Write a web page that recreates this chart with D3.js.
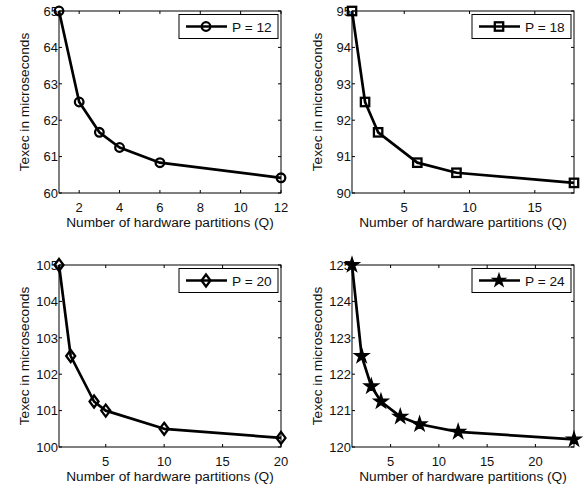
<!DOCTYPE html>
<html><head><meta charset="utf-8">
<script src="https://cdn.jsdelivr.net/npm/d3@7"></script>
<style>body{margin:0;background:#fff}svg{display:block}</style>
</head><body><svg id="c" width="588" height="492" style="font-family:'Liberation Sans', Arial, Helvetica, sans-serif"></svg>
<script>
const q12 = [1, 2, 3, 4, 6, 12];
const t12 = [65, 62.5, 61.667, 61.25, 60.833, 60.417];
const q18 = [1, 2, 3, 6, 9, 18];
const t18 = [95, 92.5, 91.667, 90.833, 90.556, 90.278];
const q20 = [1, 2, 4, 5, 10, 20];
const t20 = [105, 102.5, 101.25, 101, 100.5, 100.25];
const q24 = [1, 2, 3, 4, 6, 8, 12, 24];
const t24 = [125, 122.5, 121.667, 121.25, 120.833, 120.625, 120.417, 120.208];
const legends = ["P = 12", "P = 18", "P = 20", "P = 24"];
const xTicks12 = [2, 4, 6, 8, 10, 12];
const xTicks18 = [5, 10, 15];
const xTicks20 = [5, 10, 15, 20];
const xTicks24 = [5, 10, 15, 20];
const yTicks12 = [60, 61, 62, 63, 64, 65];
const yTicks18 = [90, 91, 92, 93, 94, 95];
const yTicks20 = [100, 101, 102, 103, 104, 105];
const yTicks24 = [120, 121, 122, 123, 124, 125];
const xMax = [12, 18, 20, 24];
const xLabel = "Number of hardware partitions (Q)";
const yLabel = "Texec in microseconds";

const panels = [
  {q:q12,t:t12,xt:xTicks12,yt:yTicks12,xm:xMax[0],leg:legends[0],mk:"circle",x0:59,y0:11},
  {q:q18,t:t18,xt:xTicks18,yt:yTicks18,xm:xMax[1],leg:legends[1],mk:"square",x0:352,y0:11},
  {q:q20,t:t20,xt:xTicks20,yt:yTicks20,xm:xMax[2],leg:legends[2],mk:"diamond",x0:59,y0:265},
  {q:q24,t:t24,xt:xTicks24,yt:yTicks24,xm:xMax[3],leg:legends[3],mk:"star",x0:352,y0:265}
];
const W = 222, H = 182;
const FONT = "'Liberation Sans', Arial, Helvetica, sans-serif";
const svg = d3.select("#c");

function marker(g, type, x, y, small) {
  if (type === "circle") {
    g.append("circle").attr("cx", x).attr("cy", y).attr("r", 4.3)
      .attr("fill", "none").attr("stroke", "#000").attr("stroke-width", 2.3);
  } else if (type === "square") {
    g.append("rect").attr("x", x - 4.2).attr("y", y - 4.2).attr("width", 8.4).attr("height", 8.4)
      .attr("fill", "none").attr("stroke", "#000").attr("stroke-width", 2.3);
  } else if (type === "diamond") {
    g.append("path").attr("d", `M${x},${y-6}L${x+4.5},${y}L${x},${y+6}L${x-4.5},${y}Z`)
      .attr("fill", "none").attr("stroke", "#000").attr("stroke-width", 2.3);
  } else {
    g.append("path").attr("d", d3.symbol(d3.symbolStar, small ? 48 : 62)())
      .attr("transform", `translate(${x},${y})`)
      .attr("fill", "#000").attr("stroke", "#000").attr("stroke-width", 1.4)
      .attr("stroke-linejoin", "miter");
  }
}

panels.forEach(p => {
  const g = svg.append("g").attr("transform", `translate(${p.x0},${p.y0})`);
  const x = d3.scaleLinear().domain([1, p.xm]).range([0, W]);
  const y = d3.scaleLinear().domain([p.yt[0], p.yt[5]]).range([H, 0]);

  const tl = 3;
  const tk = g.append("g").attr("stroke", "#000").attr("stroke-width", 1);
  p.xt.forEach(v => {
    tk.append("line").attr("x1", x(v)).attr("x2", x(v)).attr("y1", H).attr("y2", H - tl);
    tk.append("line").attr("x1", x(v)).attr("x2", x(v)).attr("y1", 0).attr("y2", tl);
  });
  p.yt.forEach(v => {
    tk.append("line").attr("x1", 0).attr("x2", tl).attr("y1", y(v)).attr("y2", y(v));
    tk.append("line").attr("x1", W).attr("x2", W - tl).attr("y1", y(v)).attr("y2", y(v));
  });
  g.append("rect").attr("width", W).attr("height", H).attr("fill", "none")
    .attr("stroke", "#000").attr("stroke-width", 1);

  g.selectAll(".xl").data(p.xt).enter().append("text")
    .attr("x", d => x(d)).attr("y", H + 19).attr("text-anchor", "middle")
    .attr("font-family", FONT).attr("font-size", 13).attr("fill", "#111").text(d => d);
  g.selectAll(".yl").data(p.yt).enter().append("text")
    .attr("x", -1).attr("y", d => y(d) + 4.7).attr("text-anchor", "end")
    .attr("font-family", FONT).attr("font-size", 13).attr("fill", "#111").text(d => d);

  g.append("text").attr("x", W / 2).attr("y", H + 34).attr("text-anchor", "middle")
    .attr("font-family", FONT).attr("font-size", 13.7).attr("fill", "#111").text(xLabel);
  g.append("text").attr("transform", `translate(-30,${H/2}) rotate(-90)`)
    .attr("text-anchor", "middle").attr("font-family", FONT).attr("font-size", 13.7)
    .attr("fill", "#111").text(yLabel);

  const data = p.q.map((v, i) => [v, p.t[i]]);
  g.append("path").datum(data)
    .attr("d", d3.line().x(d => x(d[0])).y(d => y(d[1])))
    .attr("fill", "none").attr("stroke", "#000").attr("stroke-width", 2.7)
    .attr("stroke-linejoin", "round");
  data.forEach(d => marker(g, p.mk, x(d[0]), y(d[1])));

  const lg = g.append("g").attr("transform", `translate(${W - 102},3.5)`);
  lg.append("rect").attr("width", 99).attr("height", 24).attr("fill", "#fff")
    .attr("stroke", "#000").attr("stroke-width", 1);
  lg.append("line").attr("x1", 7).attr("x2", 48).attr("y1", 12).attr("y2", 12)
    .attr("stroke", "#000").attr("stroke-width", 2.7);
  marker(lg, p.mk, 27, 12, true);
  lg.append("text").attr("x", 53).attr("y", 17).attr("font-family", FONT)
    .attr("font-size", 13.7).attr("fill", "#111").text(p.leg);
});
</script></body></html>
